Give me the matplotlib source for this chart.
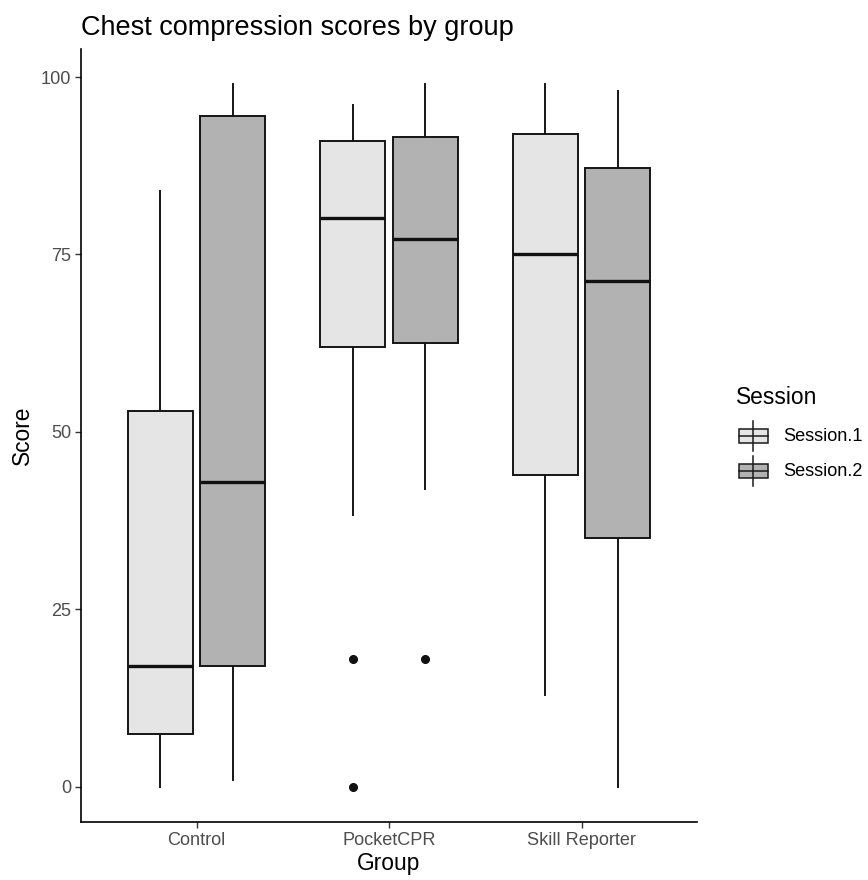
import matplotlib
matplotlib.use("Agg")
import matplotlib.pyplot as plt
from matplotlib.patches import Rectangle
from matplotlib.lines import Line2D

plt.rcParams["font.family"] = ["Liberation Sans", "DejaVu Sans"]

# dados (mínimo, Q1, mediana, Q3, máximo)
groups = ["Control", "PocketCPR", "Skill Reporter"]
sessions = ["Session.1", "Session.2"]
whislo = [[0, 1], [38.3, 42], [13, 0]]
q1 = [[7.5, 17], [62, 62.5], [44, 35]]
medians = [[17, 43], [80.2, 77.2], [75, 71.3]]
q3 = [[53, 94.5], [91, 91.6], [92, 87.2]]
whishi = [[84, 99], [96, 99], [99, 98]]
outliers = [[[], []], [[18, 0], [18]], [[], []]]
fills = ["#E5E5E5", "#B2B2B2"]

W, H = 868, 880
fig = plt.figure(figsize=(W / 100, H / 100), dpi=100)
ax = fig.add_axes([81 / W, 58 / H, 616 / W, 773 / H])

box_w = 0.3375
offs = [-0.1875, 0.1875]
for j, sess in enumerate(sessions):
    stats = []
    for i, g in enumerate(groups):
        stats.append(dict(whislo=whislo[i][j], q1=q1[i][j], med=medians[i][j],
                          q3=q3[i][j], whishi=whishi[i][j], fliers=outliers[i][j]))
    pos = [i + 1 + offs[j] for i in range(len(groups))]
    ax.bxp(stats, positions=pos, widths=box_w, showcaps=False, patch_artist=True,
           boxprops=dict(facecolor=fills[j], edgecolor="#151515", linewidth=1.4),
           medianprops=dict(color="#111111", linewidth=2.4),
           whiskerprops=dict(color="#151515", linewidth=1.4),
           flierprops=dict(marker="o", markerfacecolor="#111111", markeredgecolor="#111111",
                           markersize=5.5))

ax.set_xlim(0.4, 3.6)
ax.set_ylim(-4.95, 103.95)
ax.set_xticks([1, 2, 3])
ax.set_xticklabels(groups)
ax.set_yticks([0, 25, 50, 75, 100])
for s in ["top", "right"]:
    ax.spines[s].set_visible(False)
for s in ["left", "bottom"]:
    ax.spines[s].set_linewidth(1.2)
    ax.spines[s].set_color("black")
ax.tick_params(axis="both", length=4, width=1.0, color="#333333",
               labelsize=13.1, labelcolor="#4D4D4D", pad=3)

ax.set_xlabel("Group", fontsize=16.4, labelpad=2)
ax.set_ylabel("Score", fontsize=16.4, labelpad=5)
fig.text(81 / W, 1 - 28 / H, "Chest compression scores by group", fontsize=19.5,
         ha="left", va="center")

# legenda desenhada à mão, com chaves de boxplot
fig.text(736 / W, 1 - 397 / H, "Session", fontsize=16.4, ha="left", va="center")
for j, sess in enumerate(sessions):
    yc = 436 + j * 35
    cx = 753
    fig.add_artist(Line2D([cx / W, cx / W], [1 - (yc - 15) / H, 1 - (yc + 15) / H],
                          color="#1a1a1a", linewidth=1.1))
    fig.add_artist(Rectangle((739 / W, 1 - (yc + 7) / H), 29 / W, 14 / H,
                             facecolor=fills[j], edgecolor="#1a1a1a", linewidth=1.1))
    fig.add_artist(Line2D([739 / W, 768 / W], [1 - yc / H, 1 - yc / H],
                          color="#1a1a1a", linewidth=1.1))
    fig.text(783 / W, 1 - yc / H, sess, fontsize=13.1, ha="left", va="center")

fig.savefig("out.png", dpi=100)
